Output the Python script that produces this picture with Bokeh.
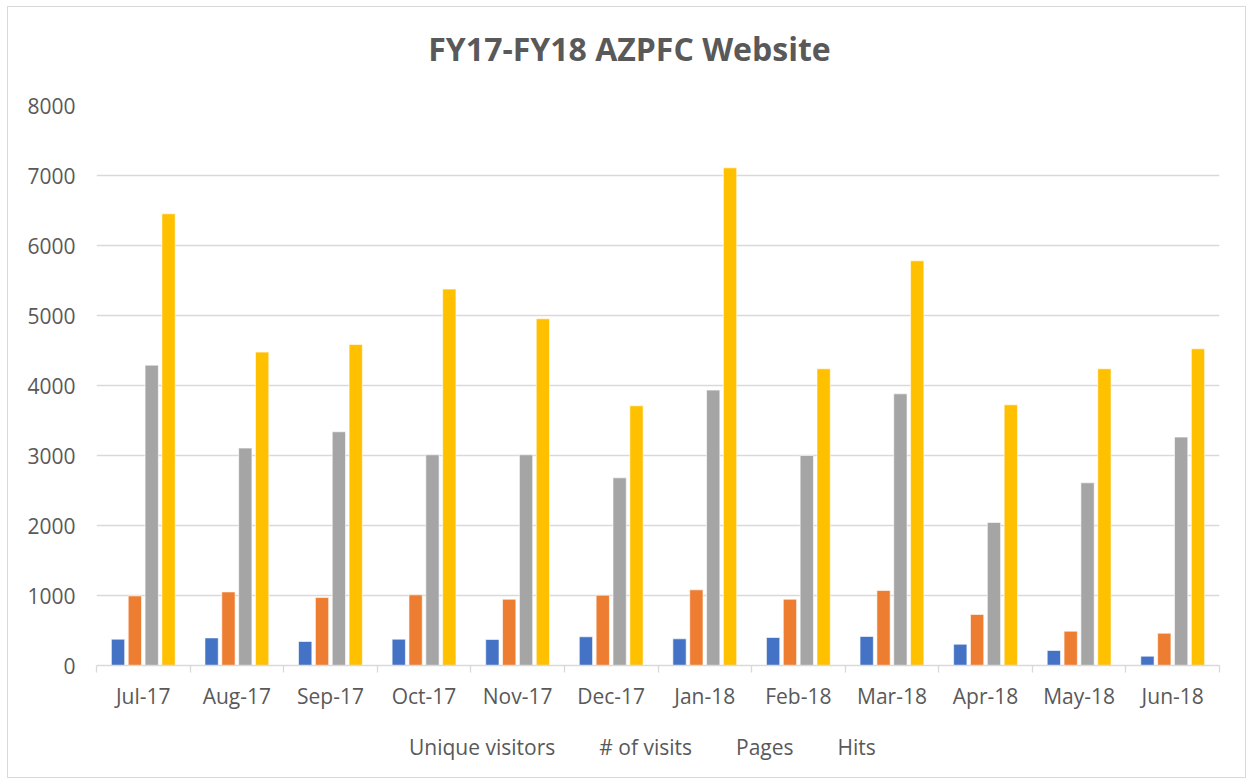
import numpy as np
from bokeh.plotting import figure
from bokeh.layouts import column
from bokeh.models import (ColumnDataSource, FixedTicker, Legend, LegendItem,
                          Range1d, Label, CDSView, IndexFilter)
from bokeh.transform import dodge
from bokeh.embed import file_html
from bokeh.resources import INLINE

months = ["Jul-17", "Aug-17", "Sep-17", "Oct-17", "Nov-17", "Dec-17",
          "Jan-18", "Feb-18", "Mar-18", "Apr-18", "May-18", "Jun-18"]
unique_visitors = [376, 394, 343, 376, 371, 410, 381, 400, 414, 304, 214, 133]
visits = [994, 1051, 971, 1009, 947, 1004, 1081, 947, 1071, 729, 490, 461]
pages = [4291, 3106, 3339, 3010, 3010, 2681, 3934, 3000, 3881, 2043, 2610, 3263]
hits = [6453, 4477, 4586, 5377, 4953, 3710, 7110, 4239, 5781, 3724, 4239, 4524]

title_text = "FY17-FY18 AZPFC Website"
series_names = ["Unique visitors", "# of visits", "Pages", "Hits"]
series_keys = ["unique", "visits", "pages", "hits"]
colors = ["#4472C4", "#ED7D31", "#A5A5A5", "#FFC000"]

pos = np.arange(len(months)) + 0.5
src = ColumnDataSource(dict(x=pos, unique=unique_visitors, visits=visits,
                            pages=pages, hits=hits))

FONT = "Open Sans"
TXT = "#595959"
W = 1237
BL, BR = 88, 26
FW = W - BL - BR
H_T, H_M, H_L = 78, 630, 62

# ---- title strip ----
t = figure(width=W, height=H_T, output_backend="svg", toolbar_location=None,
           x_range=Range1d(0, FW), y_range=Range1d(0, H_T),
           x_axis_location=None, y_axis_location=None,
           min_border_left=BL, min_border_right=BR, min_border_top=0,
           min_border_bottom=0, outline_line_color=None)
t.grid.visible = False
t.add_layout(Label(x=533, y=H_T - 41, text=title_text, text_align="center",
                   text_baseline="middle", text_font=FONT,
                   text_font_size="32px", text_font_style="bold",
                   text_color=TXT))

# ---- main chart ----
p = figure(width=W, height=H_M, output_backend="svg", toolbar_location=None,
           x_range=Range1d(0, len(months)), y_range=Range1d(0, 8000),
           min_border_left=BL, min_border_right=BR, min_border_top=20,
           min_border_bottom=50)

offsets = [-0.27, -0.09, 0.09, 0.27]
for key, off, col in zip(series_keys, offsets, colors):
    p.vbar(x=dodge("x", off), top=key, width=0.142, bottom=0, source=src,
           fill_color=col, line_color="white", line_width=0.6)

xa = p.xaxis[0]
xa.ticker = FixedTicker(ticks=list(pos), minor_ticks=list(range(len(months) + 1)))
xa.major_label_overrides = {float(v): m for v, m in zip(pos, months)}
xa.major_tick_line_color = None
xa.major_tick_out = 0
xa.major_tick_in = 0
xa.minor_tick_line_color = "#d9d9d9"
xa.minor_tick_out = 7
xa.minor_tick_in = 0
xa.minor_tick_line_width = 1.3
xa.axis_line_color = "#d9d9d9"
xa.axis_line_width = 1.3
xa.major_label_text_font = FONT
xa.major_label_text_font_size = "21px"
xa.major_label_text_color = TXT
xa.major_label_standoff = 9

ya = p.yaxis[0]
ya.ticker = FixedTicker(ticks=list(range(0, 8001, 1000)))
ya.axis_line_color = None
ya.major_tick_line_color = None
ya.minor_tick_line_color = None
ya.major_label_text_font = FONT
ya.major_label_text_font_size = "21px"
ya.major_label_text_color = TXT
ya.major_label_standoff = 15

p.xgrid.grid_line_color = None
p.ygrid.grid_line_color = "#d9d9d9"
p.ygrid.grid_line_width = 1.3
p.outline_line_color = None

# ---- legend strip ----
lg = figure(width=W, height=H_L, output_backend="svg", toolbar_location=None,
            x_range=Range1d(0, 1), y_range=Range1d(0, 1),
            x_axis_location=None, y_axis_location=None,
            min_border_left=BL, min_border_right=BR, min_border_top=0,
            min_border_bottom=0, outline_line_color=None)
lg.grid.visible = False
lrs = []
for key, col in zip(series_keys, colors):
    lrs.append(lg.vbar(x="x", top=key, width=0.1, source=src,
                       view=CDSView(filter=IndexFilter(indices=[])),
                       fill_color=col, line_color=None))
legend = Legend(items=[LegendItem(label=n, renderers=[r])
                       for n, r in zip(series_names, lrs)],
                orientation="horizontal", location=(294, 16),
                label_text_font=FONT, label_text_font_size="21px",
                label_text_color=TXT, glyph_width=14, glyph_height=14,
                label_standoff=5, spacing=25, border_line_color=None,
                background_fill_alpha=0, padding=0, margin=0)
lg.add_layout(legend, "center")

layout = column(t, p, lg, spacing=0)
layout.styles = {"border": "1px solid #d9d9d9", "margin-left": "7px",
                 "margin-top": "6px"}

open("out.html", "w").write(file_html(layout, INLINE))
